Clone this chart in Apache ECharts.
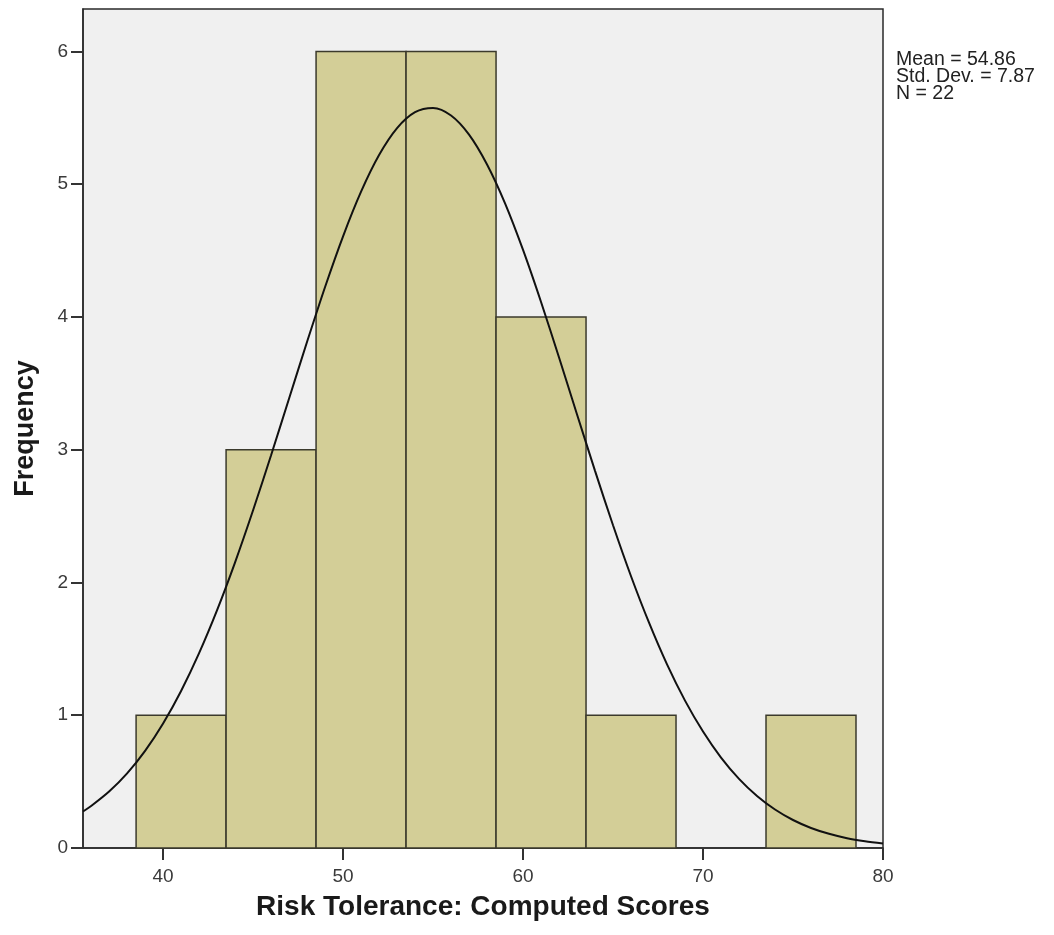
<!DOCTYPE html>
<html>
<head>
<meta charset="utf-8">
<script src="https://cdn.jsdelivr.net/npm/echarts@6/dist/echarts.min.js"></script>
<style>html,body{margin:0;padding:0;background:#fff}#c{width:1054px;height:935px}</style>
</head>
<body>
<div id="c"></div>
<script>
// Histogram bins (Risk Tolerance: Computed Scores)
var binStart = [38.5, 43.5, 48.5, 53.5, 58.5, 63.5, 68.5, 73.5];
var binEnd   = [43.5, 48.5, 53.5, 58.5, 63.5, 68.5, 73.5, 78.5];
var counts   = [1, 3, 6, 6, 4, 1, 0, 1];
// Normal curve points
var curveX = [35.55, 36, 37, 38, 39, 40, 41, 42, 43, 44, 45, 46, 47, 48, 49, 50, 51, 52, 53, 54, 55, 56, 57, 58, 59, 60,
              61, 62, 63, 64, 65, 66, 67, 68, 69, 70, 71, 72, 73, 74, 75, 76, 77, 78, 79, 80];
var curveY = [0.275, 0.316, 0.425, 0.562, 0.732, 0.938, 1.183, 1.468, 1.792, 2.152, 2.544, 2.959, 3.386, 3.813, 4.226,
              4.608, 4.944, 5.220, 5.423, 5.543, 5.575, 5.518, 5.374, 5.149, 4.856, 4.505, 4.113, 3.695, 3.266, 2.841,
              2.431, 2.047, 1.697, 1.383, 1.110, 0.877, 0.681, 0.521, 0.392, 0.290, 0.211, 0.151, 0.107, 0.074, 0.051, 0.034];
var xTicks = [40, 50, 60, 70, 80];
var yTicks = [0, 1, 2, 3, 4, 5, 6];
var statsLines = ['Mean = 54.86', 'Std. Dev. = 7.87', 'N = 22'];

var barData = binStart.map(function (s, i) { return [s, binEnd[i], counts[i]]; });
var lineData = curveX.map(function (x, i) { return [x, curveY[i]]; });

var chart = echarts.init(document.getElementById('c'));
chart.setOption({
  animation: false,
  backgroundColor: '#ffffff',
  textStyle: { fontFamily: 'Liberation Sans, Arial, sans-serif' },
  grid: {
    left: 83, top: 9, width: 800, height: 839,
    show: true, backgroundColor: '#f0f0f0', borderColor: '#2a2a2a', borderWidth: 1.5
  },
  xAxis: {
    type: 'value', min: 35.55, max: 80,
    splitLine: { show: false },
    axisLine: { show: true, onZero: false, lineStyle: { color: '#2a2a2a', width: 1.5 } },
    axisTick: { show: true, length: 12, customValues: xTicks, lineStyle: { color: '#333', width: 2 } },
    axisLabel: { customValues: xTicks, color: '#3a3a3a', fontSize: 19, margin: 19 },
    name: 'Risk Tolerance: Computed Scores', nameLocation: 'middle', nameGap: 45,
    nameTextStyle: { fontSize: 28, fontWeight: 'bold', color: '#1a1a1a' }
  },
  yAxis: {
    type: 'value', min: 0, max: 6.32,
    splitLine: { show: false },
    axisLine: { show: true, lineStyle: { color: '#2a2a2a', width: 1.5 } },
    axisTick: { show: true, length: 12, customValues: yTicks, lineStyle: { color: '#333', width: 2 } },
    axisLabel: { customValues: yTicks, color: '#3a3a3a', fontSize: 19, margin: 15 },
    name: 'Frequency', nameLocation: 'middle', nameGap: 44,
    nameTextStyle: { fontSize: 27, fontWeight: 'bold', color: '#1a1a1a' }
  },
  graphic: [{
    type: 'text', left: 896, top: 50,
    style: {
      text: statsLines.join('\n'), fill: '#222',
      font: '19.5px Liberation Sans, Arial, sans-serif', lineHeight: 17
    }
  }],
  series: [{
    type: 'custom',
    data: barData,
    encode: { x: [0, 1], y: 2 },
    renderItem: function (params, api) {
      if (api.value(2) <= 0) return null;
      var s = api.coord([api.value(0), 0]);
      var e = api.coord([api.value(1), api.value(2)]);
      return {
        type: 'rect',
        shape: { x: s[0], y: e[1], width: e[0] - s[0], height: s[1] - e[1] },
        style: { fill: '#d3ce97', stroke: '#3b3a2c', lineWidth: 1.5 }
      };
    },
    z: 2
  }, {
    type: 'line',
    data: lineData,
    smooth: 0.3,
    showSymbol: false,
    clip: true,
    lineStyle: { color: '#111', width: 2 },
    z: 3
  }]
});
</script>
</body>
</html>
